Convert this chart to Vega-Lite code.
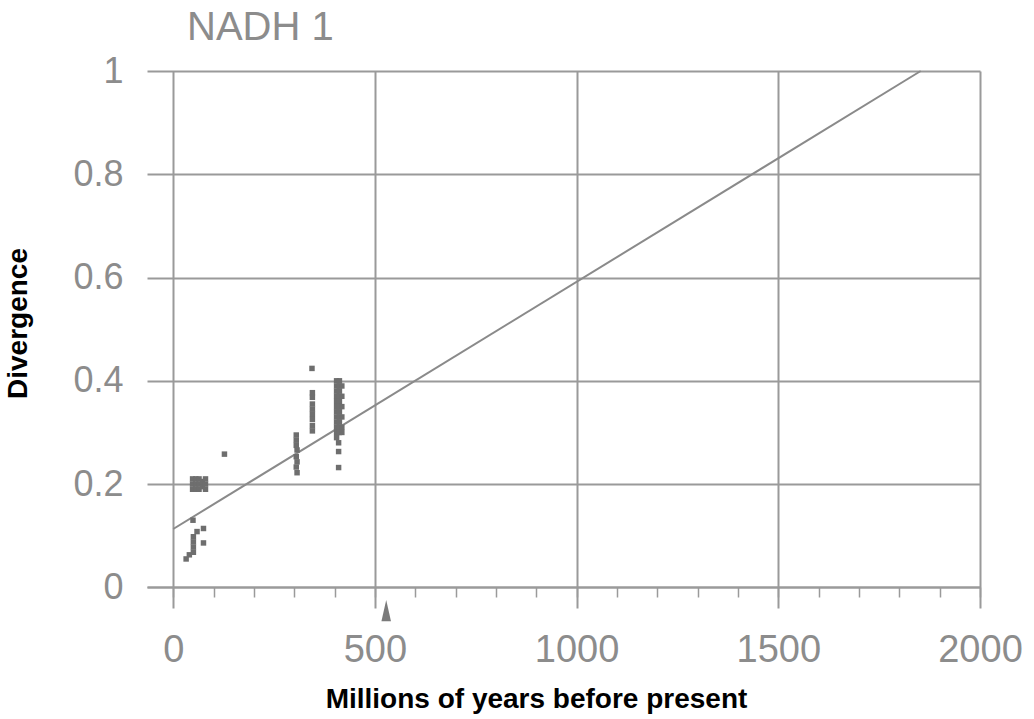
{
  "$schema": "https://vega.github.io/schema/vega-lite/v6.json",
  "autosize": {"type": "none"},
  "width": 833,
  "height": 537,
  "padding": {"left": 147, "top": 71, "right": 54, "bottom": 111},
  "background": "white",
  "config": {"view": {"stroke": null}},
  "title": {
    "text": "NADH 1",
    "anchor": "start",
    "frame": "group",
    "font": "Liberation Sans",
    "fontSize": 40,
    "fontWeight": "normal",
    "color": "#8c8c8c",
    "baseline": "alphabetic",
    "dx": 40,
    "dy": 39,
    "offset": 12
  },
  "datasets": {
    "points": [
      {"mya": 32, "divergence": 0.055},
      {"mya": 40, "divergence": 0.063},
      {"mya": 49, "divergence": 0.13},
      {"mya": 50, "divergence": 0.098},
      {"mya": 50, "divergence": 0.088},
      {"mya": 50, "divergence": 0.078},
      {"mya": 50, "divergence": 0.068},
      {"mya": 59, "divergence": 0.108},
      {"mya": 75, "divergence": 0.114},
      {"mya": 75, "divergence": 0.086},
      {"mya": 48, "divergence": 0.19},
      {"mya": 48, "divergence": 0.2},
      {"mya": 48, "divergence": 0.21},
      {"mya": 56, "divergence": 0.19},
      {"mya": 56, "divergence": 0.2},
      {"mya": 56, "divergence": 0.21},
      {"mya": 64, "divergence": 0.19},
      {"mya": 64, "divergence": 0.2},
      {"mya": 64, "divergence": 0.21},
      {"mya": 72, "divergence": 0.195},
      {"mya": 72, "divergence": 0.205},
      {"mya": 80, "divergence": 0.19},
      {"mya": 80, "divergence": 0.2},
      {"mya": 80, "divergence": 0.21},
      {"mya": 127, "divergence": 0.258},
      {"mya": 305, "divergence": 0.295},
      {"mya": 305, "divergence": 0.285},
      {"mya": 305, "divergence": 0.275},
      {"mya": 307, "divergence": 0.266},
      {"mya": 305, "divergence": 0.253},
      {"mya": 307, "divergence": 0.243},
      {"mya": 305, "divergence": 0.233},
      {"mya": 307, "divergence": 0.222},
      {"mya": 344, "divergence": 0.424},
      {"mya": 345, "divergence": 0.377},
      {"mya": 345, "divergence": 0.368},
      {"mya": 345, "divergence": 0.355},
      {"mya": 345, "divergence": 0.345},
      {"mya": 345, "divergence": 0.335},
      {"mya": 345, "divergence": 0.325},
      {"mya": 345, "divergence": 0.313},
      {"mya": 345, "divergence": 0.303},
      {"mya": 405, "divergence": 0.4},
      {"mya": 405, "divergence": 0.39},
      {"mya": 405, "divergence": 0.38},
      {"mya": 405, "divergence": 0.37},
      {"mya": 405, "divergence": 0.36},
      {"mya": 405, "divergence": 0.35},
      {"mya": 405, "divergence": 0.34},
      {"mya": 405, "divergence": 0.33},
      {"mya": 405, "divergence": 0.32},
      {"mya": 405, "divergence": 0.31},
      {"mya": 405, "divergence": 0.3},
      {"mya": 405, "divergence": 0.29},
      {"mya": 412, "divergence": 0.4},
      {"mya": 412, "divergence": 0.39},
      {"mya": 412, "divergence": 0.38},
      {"mya": 412, "divergence": 0.37},
      {"mya": 412, "divergence": 0.36},
      {"mya": 412, "divergence": 0.35},
      {"mya": 412, "divergence": 0.34},
      {"mya": 412, "divergence": 0.33},
      {"mya": 412, "divergence": 0.32},
      {"mya": 412, "divergence": 0.31},
      {"mya": 412, "divergence": 0.3},
      {"mya": 418, "divergence": 0.39},
      {"mya": 418, "divergence": 0.37},
      {"mya": 418, "divergence": 0.35},
      {"mya": 418, "divergence": 0.33},
      {"mya": 418, "divergence": 0.31},
      {"mya": 418, "divergence": 0.3},
      {"mya": 410, "divergence": 0.28},
      {"mya": 410, "divergence": 0.263},
      {"mya": 410, "divergence": 0.232}
    ],
    "fit": [
      {"mya": 0, "divergence": 0.113},
      {"mya": 1853, "divergence": 1.0}
    ],
    "marker": [
      {"mya": 528, "divergence": -0.045}
    ]
  },
  "encoding": {
    "x": {
      "field": "mya",
      "type": "quantitative",
      "scale": {"domain": [-65, 2000], "nice": false, "zero": false},
      "axis": {
        "values": [0, 100, 200, 300, 400, 500, 600, 700, 800, 900, 1000, 1100, 1200, 1300, 1400, 1500, 1600, 1700, 1800, 1900, 2000],
        "offset": -21,
        "domain": true,
        "domainColor": "#9a9a9a",
        "domainWidth": 2,
        "ticks": true,
        "tickColor": "#9a9a9a",
        "tickWidth": 1.5,
        "tickSize": 10,
        "grid": true,
        "gridColor": "#9a9a9a",
        "gridWidth": 2,
        "gridOpacity": {"condition": {"test": "datum.value % 500 === 0", "value": 1}, "value": 0},
        "labelExpr": "datum.value % 500 === 0 ? format(datum.value, 'd') : ''",
        "labelOverlap": false,
        "labelFlush": false,
        "labelFont": "Liberation Sans",
        "labelFontSize": 38,
        "labelColor": "#8c8c8c",
        "labelPadding": 34,
        "title": "Millions of years before present",
        "titleFont": "Liberation Sans",
        "titleFontSize": 28,
        "titleFontWeight": "bold",
        "titleColor": "#000000",
        "titleX": 389,
        "titleY": 98
      }
    },
    "y": {
      "field": "divergence",
      "type": "quantitative",
      "scale": {"domain": [-0.04, 1], "nice": false, "zero": false},
      "axis": {
        "values": [0, 0.2, 0.4, 0.6, 0.8, 1],
        "format": "~g",
        "domain": false,
        "ticks": false,
        "grid": true,
        "gridColor": "#9a9a9a",
        "gridWidth": 2,
        "labelFont": "Liberation Sans",
        "labelFontSize": 36,
        "labelColor": "#8c8c8c",
        "labelPadding": 24,
        "labelBaseline": "middle",
        "title": "Divergence",
        "titleFont": "Liberation Sans",
        "titleFontSize": 28,
        "titleFontWeight": "bold",
        "titleColor": "#000000",
        "titleX": -115,
        "titleY": 252
      }
    }
  },
  "layer": [
    {
      "data": {"name": "fit"},
      "mark": {"type": "line", "color": "#8a8a8a", "strokeWidth": 2}
    },
    {
      "data": {"name": "points"},
      "mark": {"type": "point", "shape": "square", "filled": true, "size": 30, "color": "#6e6e6e", "opacity": 1}
    },
    {
      "data": {"name": "marker"},
      "mark": {"type": "point", "shape": "M0,-1L0.45,1L-0.45,1Z", "filled": true, "size": 450, "color": "#7a7a7a", "opacity": 1}
    }
  ]
}
